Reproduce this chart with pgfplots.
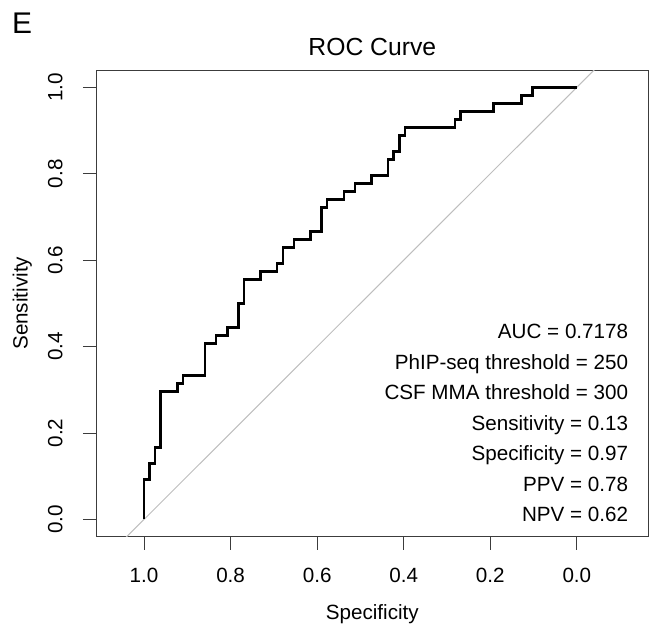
\documentclass[border=0pt]{standalone}
\usepackage{fontspec}
\setmainfont{Liberation Sans}
\usepackage{pgfplots}
\pgfplotsset{compat=1.18}

\definecolor{diag}{RGB}{190,190,190}
\definecolor{frame}{RGB}{60,60,60}

\begin{document}
\begin{tikzpicture}
\path[use as bounding box] (0,0) rectangle (654bp,-635bp);
\begin{axis}[
    at={(96bp,-536.7bp)}, anchor=south west,
    width=552.7bp, height=466.7bp, scale only axis,
    xmin=-0.166, xmax=1.111, ymin=-0.04, ymax=1.04,
    x dir=reverse,
    xtick={0,0.2,0.4,0.6,0.8,1}, ytick={0,0.2,0.4,0.6,0.8,1},
    xtick pos=bottom, ytick pos=left,
    tick align=outside, major tick length=13bp,
    axis line style={frame, line width=0.9bp},
    tick style={frame, line width=0.9bp},
    /pgf/number format/assume math mode=true,
    /pgf/number format/.cd, fixed, fixed zerofill, precision=1, /pgfplots/.cd,
    tick label style={font=\fontsize{20.7}{24}\selectfont},
    xticklabel style={anchor=base, yshift=-33bp},
    yticklabel style={xshift=-20.7bp, rotate=90, anchor=base},
    clip=true,
]
% chance line
\addplot[diag, line width=1bp] coordinates {(1.3,-0.3) (-0.3,1.3)};
% ROC curve (specificity, sensitivity)
\addplot[black, line width=2.5bp] coordinates {
(1.0000,0.0000) (1.0000,0.0926) (0.9872,0.0926) (0.9872,0.1296)
(0.9744,0.1296) (0.9744,0.1667) (0.9615,0.1667) (0.9615,0.2963)
(0.9231,0.2963) (0.9231,0.3148) (0.9103,0.3148) (0.9103,0.3333)
(0.8590,0.3333) (0.8590,0.4074) (0.8333,0.4074) (0.8333,0.4259)
(0.8077,0.4259) (0.8077,0.4444) (0.7821,0.4444) (0.7821,0.5000)
(0.7692,0.5000) (0.7692,0.5556) (0.7308,0.5556) (0.7308,0.5741)
(0.6923,0.5741) (0.6923,0.5926) (0.6795,0.5926) (0.6795,0.6296)
(0.6538,0.6296) (0.6538,0.6481) (0.6154,0.6481) (0.6154,0.6667)
(0.5897,0.6667) (0.5897,0.7222) (0.5769,0.7222) (0.5769,0.7407)
(0.5385,0.7407) (0.5385,0.7593) (0.5128,0.7593) (0.5128,0.7778)
(0.4744,0.7778) (0.4744,0.7963) (0.4359,0.7963) (0.4359,0.8333)
(0.4231,0.8333) (0.4231,0.8519) (0.4103,0.8519) (0.4103,0.8889)
(0.3974,0.8889) (0.3974,0.9074) (0.2821,0.9074) (0.2821,0.9259)
(0.2692,0.9259) (0.2692,0.9444) (0.1923,0.9444) (0.1923,0.9630)
(0.1282,0.9630) (0.1282,0.9815) (0.1026,0.9815) (0.1026,1.0000)
(0.0000,1.0000)
};
\end{axis}
% panel letter and title
\node[anchor=base west, font=\fontsize{30}{34}\selectfont, inner sep=0pt] at (12bp,-33.5bp) {E};
\node[anchor=base, font=\fontsize{24.8}{28}\selectfont, inner sep=0pt] at (372.3bp,-55bp) {ROC Curve};
% axis labels
\node[anchor=base, font=\fontsize{20.7}{24}\selectfont, inner sep=0pt] at (372.3bp,-619.3bp) {Specificity};
\node[anchor=base, rotate=90, font=\fontsize{20.7}{24}\selectfont, inner sep=0pt] at (27.6bp,-303.3bp) {Sensitivity};
% annotations
\begin{scope}[every node/.style={anchor=base east, font=\fontsize{20.7}{24}\selectfont, inner sep=0pt}]
\node at (628.3bp,-338.5bp) {AUC = 0.7178};
\node at (628.3bp,-369bp) {PhIP-seq threshold = 250};
\node at (628.3bp,-399.5bp) {CSF MMA threshold = 300};
\node at (628.3bp,-430bp) {Sensitivity = 0.13};
\node at (628.3bp,-460.5bp) {Specificity = 0.97};
\node at (628.3bp,-491bp) {PPV = 0.78};
\node at (628.3bp,-521.5bp) {NPV = 0.62};
\end{scope}
\end{tikzpicture}
\end{document}
